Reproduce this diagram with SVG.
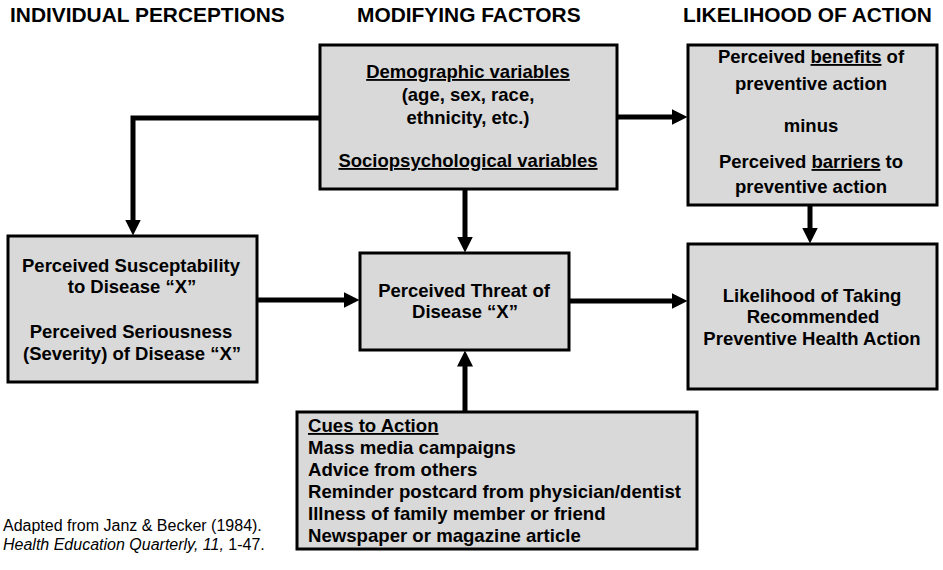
<svg xmlns="http://www.w3.org/2000/svg" width="943" height="570" viewBox="0 0 943 570">
<style>
.box{fill:#d9d9d9;stroke:#000;stroke-width:3}
.hdr{font-family:"Liberation Sans",Arial,sans-serif;font-weight:bold;font-size:20.9px;fill:#000}
.t{font-family:"Liberation Sans",Arial,sans-serif;font-weight:bold;font-size:18.5px;fill:#000;text-anchor:middle}
.l{font-family:"Liberation Sans",Arial,sans-serif;font-weight:bold;font-size:18.6px;fill:#000}
.u{text-decoration:underline}
.cite{font-family:"Liberation Sans",Arial,sans-serif;font-size:16px;fill:#000}
.conn{fill:none;stroke:#000;stroke-width:5;marker-end:url(#ah)}
</style>
<defs>
<marker id="ah" markerUnits="userSpaceOnUse" markerWidth="16" markerHeight="16" viewBox="0 0 16 16" refX="0.5" refY="8" orient="auto">
<path d="M0,0 L16,8 L0,16 Z" fill="#000"/>
</marker>
</defs>
<rect width="943" height="570" fill="#fff"/>
<g id="headers">
<text class="hdr" x="10" y="22">INDIVIDUAL PERCEPTIONS</text>
<text class="hdr" x="357" y="22">MODIFYING FACTORS</text>
<text class="hdr" x="683" y="22">LIKELIHOOD OF ACTION</text>
</g>
<g id="connectors">
<path class="conn" d="M320,118 H133 V220"/>
<path class="conn" d="M618,117 H672"/>
<path class="conn" d="M465,190 V237"/>
<path class="conn" d="M465,411 V366"/>
<path class="conn" d="M258,300 H344"/>
<path class="conn" d="M570,301 H672"/>
<path class="conn" d="M810,206 V228"/>
</g>
<g id="demographic">
<rect class="box" x="320" y="45" width="297" height="144"/>
<text class="t" x="468" y="78"><tspan class="u">Demographic variables</tspan></text>
<text class="t" x="468" y="101">(age, sex, race,</text>
<text class="t" x="468" y="124">ethnicity, etc.)</text>
<text class="t" x="468" y="167"><tspan class="u">Sociopsychological variables</tspan></text>
</g>
<g id="benefits">
<rect class="box" x="688" y="45" width="249" height="160"/>
<text class="t" x="811" y="63">Perceived <tspan class="u">benefits</tspan> of</text>
<text class="t" x="811" y="90">preventive action</text>
<text class="t" x="811" y="132">minus</text>
<text class="t" x="811" y="168">Perceived <tspan class="u">barriers</tspan> to</text>
<text class="t" x="811" y="193">preventive action</text>
</g>
<g id="perceptions">
<rect class="box" x="8" y="236" width="249" height="146"/>
<text class="t" x="131" y="272">Perceived Susceptability</text>
<text class="t" x="132" y="293">to Disease “X”</text>
<text class="t" x="131" y="338">Perceived Seriousness</text>
<text class="t" x="132" y="360">(Severity) of Disease “X”</text>
</g>
<g id="threat">
<rect class="box" x="360" y="253" width="209" height="97"/>
<text class="t" x="464" y="297">Perceived Threat of</text>
<text class="t" x="465" y="318">Disease “X”</text>
</g>
<g id="likelihood">
<rect class="box" x="688" y="244" width="249" height="145"/>
<text class="t" x="812" y="302">Likelihood of Taking</text>
<text class="t" x="813" y="323">Recommended</text>
<text class="t" x="812" y="345">Preventive Health Action</text>
</g>
<g id="cues">
<rect class="box" x="297" y="412" width="400" height="137"/>
<text class="l" x="308" y="432"><tspan class="u">Cues to Action</tspan></text>
<text class="l" x="308" y="454">Mass media campaigns</text>
<text class="l" x="308" y="476">Advice from others</text>
<text class="l" x="308" y="498">Reminder postcard from physician/dentist</text>
<text class="l" x="308" y="520">Illness of family member or friend</text>
<text class="l" x="308" y="542">Newspaper or magazine article</text>
</g>
<g id="citation">
<text class="cite" x="3" y="531">Adapted from Janz &amp; Becker (1984).</text>
<text class="cite" x="3" y="550"><tspan font-style="italic">Health Education Quarterly, 11,</tspan> 1-47.</text>
</g>
</svg>
